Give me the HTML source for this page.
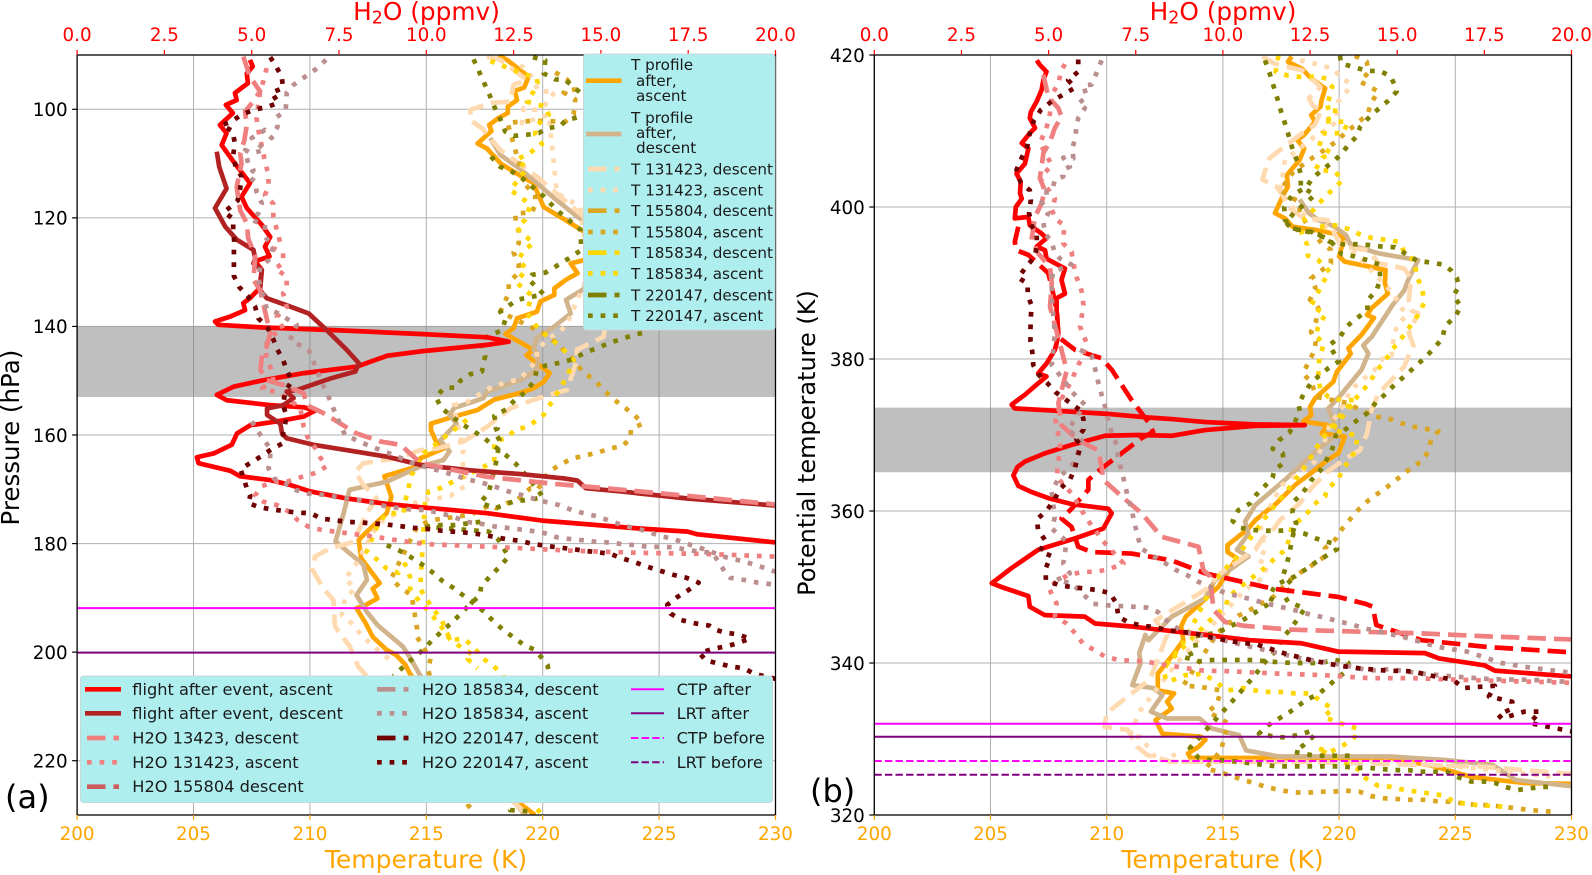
<!DOCTYPE html>
<html lang="en">
<head>
<meta charset="utf-8">
<title>H2O and temperature profiles</title>
<style>
html,body{margin:0;padding:0;background:#fff;width:1592px;height:875px;overflow:hidden}
svg{display:block;font-family:"DejaVu Sans","Liberation Sans",sans-serif}
.lg{font-size:16.2px;fill:#1a1a1a}
.lt{font-size:15.2px;fill:#1a1a1a}
</style>
</head>
<body>
<svg id="figure" xmlns="http://www.w3.org/2000/svg" width="1592" height="875" viewBox="0 0 1592 875">
<rect x="0" y="0" width="1592" height="875" fill="#fff"/>
<defs>
<clipPath id="clipA"><rect x="77" y="55" width="698.5" height="760"/></clipPath>
<clipPath id="clipB"><rect x="874.3" y="55" width="697.2" height="760"/></clipPath>
</defs>
<g id="panelA"></g>
<g id="panelB"></g>

<g>
<rect x="583.5" y="54" width="191.5" height="276" rx="3" fill="#afeeee" stroke="#c8d8d8" stroke-width="1"/>
<g><line x1="586" x2="621.5" y1="80.7" y2="80.7" stroke="#ffa500" stroke-width="4.7"/><text class="lt" x="631" y="70">T profile</text><text class="lt" x="636" y="86">after,</text><text class="lt" x="636" y="101">ascent</text></g>
<g><line x1="586" x2="621.5" y1="134" y2="134" stroke="#d2b48c" stroke-width="4.7"/><text class="lt" x="631" y="123">T profile</text><text class="lt" x="636" y="138">after,</text><text class="lt" x="636" y="153">descent</text></g>
<g><line x1="588" x2="619.5" y1="169" y2="169" stroke="#ffdab0" stroke-width="4.7" stroke-dasharray="18.5 8"/><text class="lt" x="631" y="174.5">T 131423, descent</text></g>
<g><line x1="588" x2="619.5" y1="190" y2="190" stroke="#ffdab0" stroke-width="4.7" stroke-dasharray="4.7 7.9"/><text class="lt" x="631" y="195.5">T 131423, ascent</text></g>
<g><line x1="588" x2="619.5" y1="210.7" y2="210.7" stroke="#daa520" stroke-width="4.7" stroke-dasharray="18.5 8"/><text class="lt" x="631" y="216">T 155804, descent</text></g>
<g><line x1="588" x2="619.5" y1="232" y2="232" stroke="#daa520" stroke-width="4.7" stroke-dasharray="4.7 7.9"/><text class="lt" x="631" y="237.5">T 155804, ascent</text></g>
<g><line x1="588" x2="619.5" y1="252.7" y2="252.7" stroke="#ffd700" stroke-width="4.7" stroke-dasharray="18.5 8"/><text class="lt" x="631" y="258">T 185834, descent</text></g>
<g><line x1="588" x2="619.5" y1="273.3" y2="273.3" stroke="#ffd700" stroke-width="4.7" stroke-dasharray="4.7 7.9"/><text class="lt" x="631" y="279">T 185834, ascent</text></g>
<g><line x1="588" x2="619.5" y1="295" y2="295" stroke="#808000" stroke-width="4.7" stroke-dasharray="18.5 8"/><text class="lt" x="631" y="300.5">T 220147, descent</text></g>
<g><line x1="588" x2="619.5" y1="315.7" y2="315.7" stroke="#808000" stroke-width="4.7" stroke-dasharray="4.7 7.9"/><text class="lt" x="631" y="321">T 220147, ascent</text></g>
</g>

<g>
<rect x="80.5" y="676" width="692" height="126.5" rx="3" fill="#afeeee" stroke="#c8d8d8" stroke-width="1"/>
<g><line x1="85" x2="121" y1="689.3" y2="689.3" stroke="#ff0000" stroke-width="4.7"/><text class="lg" x="132.3" y="695">flight after event, ascent</text></g>
<g><line x1="85" x2="121" y1="713.3" y2="713.3" stroke="#b22222" stroke-width="4.7"/><text class="lg" x="132.3" y="719">flight after event, descent</text></g>
<g><line x1="87" x2="119" y1="738" y2="738" stroke="#f08080" stroke-width="4.7" stroke-dasharray="18.5 8"/><text class="lg" x="132.3" y="743.5">H2O 13423, descent</text></g>
<g><line x1="87" x2="119" y1="762.3" y2="762.3" stroke="#f08080" stroke-width="4.7" stroke-dasharray="4.7 7.9"/><text class="lg" x="132.3" y="768">H2O 131423, ascent</text></g>
<g><line x1="87" x2="119" y1="786.7" y2="786.7" stroke="#cd5c5c" stroke-width="4.7" stroke-dasharray="18.5 8"/><text class="lg" x="132.3" y="792">H2O 155804 descent</text></g>
<g><line x1="377" x2="408.5" y1="689.3" y2="689.3" stroke="#bc8f8f" stroke-width="4.7" stroke-dasharray="18.5 8"/><text class="lg" x="422" y="695">H2O 185834, descent</text></g>
<g><line x1="377" x2="408.5" y1="713.3" y2="713.3" stroke="#bc8f8f" stroke-width="4.7" stroke-dasharray="4.7 7.9"/><text class="lg" x="422" y="719">H2O 185834, ascent</text></g>
<g><line x1="377" x2="408.5" y1="738" y2="738" stroke="#700000" stroke-width="4.7" stroke-dasharray="18.5 8"/><text class="lg" x="422" y="743.5">H2O 220147, descent</text></g>
<g><line x1="377" x2="408.5" y1="762.3" y2="762.3" stroke="#700000" stroke-width="4.7" stroke-dasharray="4.7 7.9"/><text class="lg" x="422" y="768">H2O 220147, ascent</text></g>
<g><line x1="631" x2="664" y1="689.3" y2="689.3" stroke="#ff00ff" stroke-width="2"/><text class="lg" x="676.6" y="695">CTP after</text></g>
<g><line x1="631" x2="664" y1="713.3" y2="713.3" stroke="#800080" stroke-width="2"/><text class="lg" x="676.6" y="719">LRT after</text></g>
<g><line x1="631" x2="664" y1="738" y2="738" stroke="#ff00ff" stroke-width="2" stroke-dasharray="7.4 3.2"/><text class="lg" x="676.6" y="743.5">CTP before</text></g>
<g><line x1="631" x2="664" y1="762.3" y2="762.3" stroke="#800080" stroke-width="2" stroke-dasharray="7.4 3.2"/><text class="lg" x="676.6" y="768">LRT before</text></g>
</g>

<text x="5" y="808" font-size="32" fill="#000">(a)</text>
<text x="810" y="802" font-size="32" fill="#000">(b)</text>

<text x="0" y="0" font-size="24.5" text-anchor="middle" transform="translate(19 437.6) rotate(-90)" fill="#000">Pressure (hPa)</text>
<text x="0" y="0" font-size="24" text-anchor="middle" transform="translate(815 443) rotate(-90)" fill="#000">Potential temperature (K)</text>
<text x="426" y="868" font-size="25" text-anchor="middle" fill="#ffa500">Temperature (K)</text>
<text x="1222.5" y="868" font-size="25" text-anchor="middle" fill="#ffa500">Temperature (K)</text>
<text x="426.5" y="20" font-size="24.8" text-anchor="middle" fill="#ff0000">H<tspan font-size="17.4" dy="3.5">2</tspan><tspan dy="-3.5">O (ppmv)</tspan></text>
<text x="1223" y="20" font-size="24.8" text-anchor="middle" fill="#ff0000">H<tspan font-size="17.4" dy="3.5">2</tspan><tspan dy="-3.5">O (ppmv)</tspan></text>
</svg>

<script>
/* ---------- axis tick values ---------- */
const tempTicks = [200,205,210,215,220,225,230];
const h2oTicks = ['0.0','2.5','5.0','7.5','10.0','12.5','15.0','17.5','20.0'];
const pressureTicks = [100,120,140,160,180,200,220];
const thetaTicks = [320,340,360,380,400,420];

/* ---------- reference levels ---------- */
const bandPressure = [140,153];
const bandTheta = [365.1,373.6];
const levelsPressure = [191.9,200.1];
const levelsThetaAfter = [332,330.3];
const levelsThetaBefore = [327.1,325.3];

/* ---------- panel (a): pressure coordinates, [value, hPa] ---------- */
const aH2oAscent = [[4.95,90.9],[5.03,92.1],[4.86,93.4],[4.89,95.2],[4.52,97],[4.57,98.3],[4.26,99.2],[4.46,100.7],[4.09,102.9],[4.28,104.4],[4.14,106.6],[4.52,110],[4.95,113.6],[4.71,116.1],[4.86,118.2],[5.29,121.3],[5.53,123.5],[5.38,125.3],[5.51,127.1],[5.1,128],[5.29,129.6],[5.22,133],[4.95,134.8],[4.76,135.7],[4.81,137],[4.38,138.2],[3.95,139.1],[4.04,139.7],[5.33,140.2],[7.44,140.7],[9.83,141.4],[11.74,142],[12.36,142.8],[11.74,143.4],[9.83,144.6],[8.88,145.4],[8.4,146.5],[8.02,147.4],[6.5,148.6],[5.34,149.9],[4.48,151.1],[4,152.6],[4.29,153.6],[5.53,154.5],[6.49,154.9],[6.82,155.5],[6.49,156.6],[5.72,157.5],[4.96,158.2],[4.58,159.7],[4.43,161.8],[3.91,163.4],[3.43,164.1],[3.48,165.2],[4.39,166.6],[4.67,167.6],[5.53,168.3],[6.1,169.2],[6.68,170.4],[7.73,171.7],[8.88,172.7],[9.83,173.3],[11.74,174.4],[13.37,175.8],[16.05,177.2],[17.48,177.8],[17.77,178.3],[19.87,179.7],[20.1,179.9]];
const aH2oDescent = [[4,107.8],[4.07,110.6],[4.28,114.6],[3.95,118.2],[4.24,121.6],[4.57,124],[5.05,125.9],[5.1,127.5],[5.05,128.4],[5.29,129.6],[5.24,133.3],[5.43,134.8],[6,136.1],[6.63,137.6],[7.15,140.7],[7.72,144.3],[8.07,146.8],[7.97,148.3],[7.25,149.6],[6.3,151.7],[6,152],[6.2,153.2],[5.9,154.5],[5.44,155.1],[5.44,156.3],[5.82,157.9],[5.87,159.7],[6,160.6],[6.77,161.8],[7.73,162.8],[8.88,164],[9.83,165.5],[11.26,166.5],[12.7,167.2],[13.95,168],[14.33,168.4],[14.57,169.8],[15.57,170.4],[17.48,171.7],[20,173]];
const aH2o131423Descent = [[4.76,90.3],[4.95,94],[5.24,96.7],[5,98.9],[4.81,100.4],[4.86,102.9],[4.79,105.7],[4.67,108.1],[4.71,110],[4.57,114.3],[4.67,118.6],[4.86,121],[4.9,123.8],[5.1,127.1],[5.05,131.4],[5.24,133.3],[5.53,141.3],[5.43,143.7],[5.3,145],[5.25,148],[5.43,149.9],[5.9,150.8],[6.49,152.3],[6.58,154.5],[7.06,156],[8,159.7],[8.69,161.2],[9.26,161.8],[9.64,164],[9.83,165.2],[11.74,167.7],[13.66,169],[14.6,169.5],[17.48,171.2],[20,172.8]];
const aH2o131423Ascent = [[5.43,92.4],[5.33,94.9],[5.24,96.7],[5.14,101.7],[5.19,103.8],[5.24,105.3],[5.38,109.6],[5.48,112.1],[5.48,114.3],[5.38,115.8],[5.62,117.4],[5.62,119.8],[5.72,122.2],[5.81,124.4],[5.62,125.6],[5.9,126.5],[5.9,128.4],[5.67,129.3],[6,130.8],[6,133.3],[5.9,133.9],[6,136.4],[5.72,138.2],[5.9,140.4],[5.53,141.9],[5.39,143.7],[5.43,146.2],[5.53,147.4],[5.62,149.9],[5.3,151.4],[5.8,152.3],[6.39,155],[6.49,158.5],[6.6,160.4],[6.82,162.4],[6.95,164],[7.14,165.8],[6.82,167],[6.44,167.7],[6.01,168.6],[5.67,168.6],[5.3,169.4],[5.1,171.1],[5.34,172.3],[5.72,172.9],[6.06,174.1],[6.32,175.7],[6.63,176.9],[7.01,177.5],[7.4,177.8],[8.1,178.4],[8.5,178.7],[9.26,179.5],[9.64,179.8],[10,180.1],[12.2,180.7],[14.13,181.3],[16.05,181.7],[17.96,181.9],[20,182.4]];
const aH2o185834Ascent = [[7.13,90.9],[6.84,92.6],[6.53,94],[6.2,95.5],[6,97],[6,98.5],[5.96,100.4],[5.72,101.4],[5.74,103.2],[5.57,105.3],[5.38,103.8],[5,105.3],[5.38,107.5],[5,108.1],[4.81,107.5],[4.9,110],[5.05,111.2],[4.9,112.4],[5.1,113.3],[5.14,115.2],[5.29,117.3],[5.19,119.2],[5,120.4],[5.38,121.3],[5.38,123.5],[5.62,125.3],[5.48,127.8],[5.24,129],[5.2,131.4],[5.43,136.7],[5.76,137.6],[6.29,139.7],[6.1,142.5],[6.63,144.3],[6.77,146.5],[6.92,148.9],[7.06,151.1],[7.23,153.4],[7.37,155.6],[7.52,157.8],[7.67,160],[8.02,161],[8.37,162],[8.7,162.8],[9.07,163.7],[9.4,164.6],[9.74,165.5],[10.1,166.1],[10.5,166.8],[10.9,167.6],[11.2,168.2],[11.6,168.8],[12,169.6],[12.3,170.3],[12.7,171],[13.06,171.7],[13.4,172.3],[13.8,172.9],[14.16,173.8],[14.5,174.4],[14.9,175],[15.25,175.8],[15.6,176.6],[16,177.2],[16.35,177.8],[16.7,178.6],[17.1,179.2],[17.45,180],[17.8,180.7],[18.2,181.6],[18.5,182.4],[18.9,183],[19.25,183.6],[19.6,184.3],[20,185.2]];
const aH2o185834Branch = [[5,157.5],[5.25,160],[5.53,162.5],[5.53,164.6],[5.48,166.1],[5.63,168],[5.96,168.9],[6.25,170.1],[6.63,170.8],[7.01,171],[7.4,171.4],[7.78,171.7],[8.14,172],[8.52,172.6],[8.88,173.2],[9.26,173.5],[9.64,173.8],[10,173.8],[10.4,174.4],[10.76,175],[11.14,176],[11.53,176.3],[11.9,176.8],[12.3,177.1],[12.7,177.4],[13.06,177.7],[13.4,178.1],[13.77,178.9],[14.16,179.2],[14.5,179.4],[14.9,179.7],[15.27,179.8],[15.6,180.1],[16,180.3],[16.35,180.6],[16.7,180.6],[17.1,180.7],[17.45,181.1],[17.8,181.5],[18.2,181.7],[18.55,185.2],[18.7,186.3],[19.1,186.7],[19.5,187.2],[20,187.6]];
const aH2o220147Ascent = [[5.53,90.4],[5.69,92],[5.86,94],[5.9,96.1],[5.57,96.9],[5.76,98.8],[5.43,99.6],[5.05,100.1],[4.71,101],[4.41,102.3],[4.14,102.9],[4.45,104],[4.52,106.3],[4.47,108.4],[4.54,110.6],[4.71,112.4],[4.67,114.6],[4.6,116.8],[4.41,117.9],[4.21,118.9],[4.47,120.2],[4.47,122.2],[4.5,124.4],[4.49,126.4],[4.49,128.7],[4.49,130.7],[4.65,132.8],[4.9,134.5],[5.1,136.4],[5.19,138.5],[5.45,140.2],[5.62,142.4],[5.74,144.3],[5.9,146.2],[6,148],[6.15,150],[5.96,152],[5.9,154.5],[6,156.6],[5.9,159.7],[5.9,161.5],[5.57,162.6],[5.3,163.8],[5,165],[4.68,166.3],[4.77,168],[4.86,169.8],[4.96,171.2],[4.9,172.5],[5.17,173.2],[5.55,173.7],[5.93,174],[6.3,174.3],[6.68,174.4],[7,175.4],[7.37,175.7],[7.73,176],[8.1,176.1],[8.5,176.3],[8.88,176.5],[9.26,176.8],[9.64,177.1],[10,177.3],[10.4,177.6],[10.76,177.8],[11.14,178],[11.53,178.3],[11.9,178.7],[12.3,179.2],[12.7,179.5],[13,180],[13.4,180.4],[13.77,180.7],[14.16,181],[14.5,181.3],[14.9,181.6],[15.27,181.9],[15.6,182.7],[16,183.5],[16.35,184.3],[16.7,185],[17.1,185.8],[17.45,186.3],[17.8,187.2],[17.5,188.6],[17.2,189.8],[16.9,191.3],[17,192.9],[17.3,194.1],[17.7,194.7],[18.1,195.1],[18.25,195.8],[18.55,196.4],[18.9,196.7],[19.27,197.5],[18.9,198.4],[18.6,198.9],[18.2,199.4],[17.83,200.2],[18,201.5],[18.3,202],[18.7,202.6],[19.1,203],[19.4,204],[19.85,204.7],[20.2,205.2]];

const aTAscent = [[218.1,90],[218.5,91],[219.4,94],[219.2,96],[218.8,96.6],[218.9,98.3],[218.5,99.5],[218.5,100.7],[218.1,101.6],[217.7,102.9],[217.8,104],[217.2,106.3],[217.6,107.2],[218.2,110],[218.75,111.5],[219.6,113.6],[220.04,118],[220.9,120.2],[221.76,122.5],[222.5,125],[221.76,127.8],[221.2,128.4],[221.5,130.2],[221,131.4],[220.5,133],[220.5,134.2],[219.9,135.4],[219.75,137.3],[218.9,138.5],[218.75,140.3],[218.4,141.4],[219.6,144.3],[219.3,145.3],[219.75,146.8],[220.3,148.6],[220.04,150.2],[219.6,151.4],[219,152.3],[217.9,153.5],[217.2,155.4],[216.2,156.6],[215.2,157.9],[215.2,159.1],[215.45,161.5],[215.74,162.5],[214.74,164.3],[214.6,165.8],[213.2,167.6],[213.5,171.4],[213.3,174.4],[212.6,177.2],[212.1,179.3],[212.2,182.7],[213,187.3],[212.7,188.3],[212.9,190.1],[212.4,191.3],[212,191.9],[212.4,194.7],[212.7,197.2],[213.3,199.6],[213.7,200.5],[214.1,202.3],[214.3,204],[219.03,227.9],[219.67,230]];
const aTDescent = [[217.75,105.3],[218.18,108.4],[219,110.9],[219.75,113.6],[220.5,116.4],[221.76,120.7],[222.5,126],[221.76,133.1],[221,135.1],[221.2,137.6],[220.5,140],[219.75,142.1],[219.6,144.3],[219.8,145],[219.75,148],[219.04,149.9],[217.6,152],[217.46,153.2],[216.2,155],[216,156.3],[216.3,157.9],[215.6,161],[216,163],[215.74,164.6],[214.74,165.8],[213.3,168.6],[211.7,170.1],[211.45,174.4],[211.1,179.6],[212.3,183.9],[212.45,186.7],[212,189.5],[212.45,192.6],[212.9,195],[214,199],[214.3,201],[214.7,204],[218.71,227.3],[219.25,230]];
const aT131423Descent = [[217.6,90.3],[218.18,90.9],[219.32,94.6],[218.75,95.5],[218.61,98.6],[217.82,98.8],[216.89,100.1],[216.89,102],[217.39,103.5],[218.18,107.5],[219.75,112.4],[221.76,119.8],[223,130],[222.62,141.9],[221.47,144.3],[221.47,146.2],[221.04,151.7],[219.61,153.5],[218.61,155.1],[217.6,158.5],[216.6,161.2],[215.46,162.5],[214.74,162.8],[213.73,164.3],[212.3,165.2],[211.94,166.8],[212.3,169.2],[212.87,171.7],[212.44,174.4],[211.87,179.7],[210.86,180.9],[210.22,182.4],[210.08,184.6],[210.58,188.3],[211.01,190.4],[211.08,195.3],[211.72,199],[212.08,202.7],[212.4,204.2],[218.82,227.9],[219.35,230]];
const aT131423Ascent = [[219.04,91.8],[219.47,93.7],[219.83,96.7],[220.54,96.7],[220.04,99.5],[219.68,100.1],[219.18,99.8],[219.11,102.6],[220.26,101],[220.61,115.5],[221.6,117.9],[222,130],[221,140],[220.18,142.5],[219.75,144.3],[219.75,146.2],[219.04,149.6],[217.82,151.1],[216.75,153.9],[216.17,154.5],[216.6,162.8],[216.53,163.7],[216.67,169.4],[216.03,171.2],[215.46,171.7],[214.74,172],[214.6,172.3],[212.94,176.3],[211.87,184.6],[211.51,186.4],[211.94,188.3],[211.51,190.1],[211.37,193.2],[211.8,194.7],[212.15,196.5],[212.58,198.4],[213.6,202]];
const aT155804Ascent = [[220.54,93.2],[221.04,94.5],[221.4,96.3],[220.9,96.9],[221.4,98.2],[221.33,100.9],[220.97,102.3],[219.61,102.1],[219.04,102.3],[218.49,102.5],[219.25,113.9],[219.68,115.8],[219.68,117.6],[219.54,119],[218.82,119.2],[218.85,121],[218.97,122.5],[218.97,124.7],[218.75,126.4],[218.97,128.4],[218.97,130.1],[218.54,131.9],[218.54,133.9],[218.18,137.3],[220.04,141.3],[220.61,143.1],[221.47,146.8],[221.72,148.5],[222.19,149.7],[222.58,151.5],[222.98,153.2],[223.44,154.7],[223.91,156.2],[224.3,157.9],[223.79,158.9],[223.77,160.6],[223.44,162],[222.88,162.5],[222.33,163.3],[221.76,163.8],[221.23,164.4],[220.73,165.5],[220.26,166.8],[219.78,170.1],[219.47,169.8],[218.89,172],[218.44,172.6],[218.01,173.5],[217.75,172.9],[216.89,174.7],[215.67,175.4],[215.14,175.8],[214.6,176.9],[213.5,186.4],[213.87,188.1],[214.37,189.5],[214.6,195.6],[214.6,197.2],[215.18,201.2],[215.08,203.3],[216.79,228.2],[217.1,229.7]];
const aT185834Ascent = [[217.75,91.1],[218.82,92.9],[219.75,94.3],[219.78,95.2],[219.61,96.7],[219.32,98.6],[220.11,99.5],[220.26,101],[219.68,103.2],[219.68,104.7],[219.97,106.4],[219.4,108.2],[218.89,109.2],[219.32,110.9],[218.61,114.9],[219.04,116.1],[219.47,117.6],[219.25,120.3],[218.89,121.9],[219.61,124.7],[219.18,125.9],[218.97,127.8],[219.3,129.4],[218.89,131.8],[219.18,133.3],[219.54,134.2],[219.32,137.3],[219.54,139.1],[219.97,141],[220.76,143.7],[221.33,146.2],[221.04,149.3],[220.83,150.8],[220.04,156.3],[219.35,158.5],[218.82,159],[218.47,160.5],[217.92,161.2],[217.92,164.9],[217.39,166],[216.1,168.7],[215.67,169.7],[215.1,170.4],[214.95,171.8],[214.74,188.3],[215.03,190.4],[215.67,194.2],[216.03,197.8],[216.6,197.5],[217.03,199],[217.43,201.2],[217.86,202.4],[218.28,204.2],[219.67,228.5],[220,230]];
const aT185834Branch = [[216.75,157.2],[216.17,159.1],[215.81,160.3],[215.38,161.8],[214.88,163.4],[214.37,167.4],[214.23,169.8],[214.09,172.3],[214.02,174.4],[213.3,174.4],[212.94,176.3],[212.44,181.5],[212.87,182.9],[213.3,184.6],[213.8,185.4],[214.09,183.8],[214.3,186.1],[214.3,188.3],[214.6,190.1],[215,192],[215.6,195],[216.04,197.8],[216.57,199.3],[217,200.5],[216.79,201.3],[217.2,203]];
const aT220147AscentA = [[217.03,90.8],[217.25,92.9],[217.49,95.2],[217.72,97.4],[217.93,99.6],[218.18,101.8],[218.39,104.1],[218.75,104.9],[219.3,104.7],[219.83,104.4],[220.18,103.5],[220.76,103.1],[220.97,102.1],[221.47,101.5],[221.83,101]];
const aT220147AscentB = [[219.58,90.4],[220.11,91],[220.04,93.4],[220.54,94.5],[220.97,94.6],[221.55,96.7],[221.83,97.7]];
const aT220147AscentC = [[217.78,108.7],[218.18,110.6],[218.68,111.5],[219.11,112.7],[219.58,114.4],[220.04,116],[220.61,118.6],[221.04,120.1],[221.62,122.2],[221.66,125.9],[221.26,127.1],[220.54,129],[220.11,130.1],[219.54,130.5],[219.4,131.4],[219.75,132.8],[220.04,134.1],[218.89,135.1],[218.54,136.2],[218.18,137.3],[218.39,138.8],[218.25,140.7],[217.32,142.5],[217.53,145.4],[217.39,148.3],[216.89,148.8],[216.46,150],[216.32,151.2],[215.74,151.4],[215.41,153.1],[215.67,155.1],[216.1,156.6],[216.53,158],[217.03,159.3],[217.49,160.6],[217.96,162.2],[218.39,163.6],[218.82,165.2],[219.18,166.9],[219.78,170],[220.01,171.5],[219.44,171.9],[218.82,172.2],[218.44,172.7],[217.96,173.5],[217.32,172.5],[217.68,170.6],[217.96,165.8],[218.06,163.5],[218.15,161],[217.89,159.1],[218.06,158.8],[217.92,156.5],[218.42,155.3],[218.79,153.6],[219.28,152],[219.61,150.2],[219.75,148],[220.18,147.1],[220.76,146.7],[221.3,146],[221.79,144.9],[222.9,143],[223.9,141.6],[224.48,141]];
const aT220147AscentD = [[217.32,176],[216.75,176.3],[216.17,176.6],[215.6,176.6],[215.03,176.9],[217.68,177.8],[218.08,179.2],[218.54,182.4],[218.14,184.3],[217.75,186],[217.36,187.8],[217.29,189.6],[216.89,191.1],[216.46,193],[216.06,194.7],[215.63,196.3],[215.21,198],[214.86,199.6],[214.33,201.5],[213.58,204.4]];
const aT220147AscentE = [[213.3,180.3],[213.8,181.2],[214.3,182.4],[214.74,183.6],[215.24,185.2],[215.67,186.8],[216.14,188.1],[216.6,189.6],[217.03,191],[217.5,192.6],[217.86,194.2],[218.28,195.8],[218.75,197.3],[219.21,198.7],[219.67,199.6],[219.99,201.2],[220.21,202.4],[220.27,204.2],[218.6,229.1],[219.67,229.4]];

/* ---------- panel (b): potential temperature coordinates, [value, K] ---------- */
const bH2oAscent = [[4.66,419.3],[4.75,418.7],[4.94,417.8],[4.85,416.7],[4.8,415.4],[4.66,413.9],[4.49,412.5],[4.46,411.7],[4.61,410.4],[4.46,409.7],[4.23,408.4],[4.42,407.7],[4.32,405.7],[4.08,404.4],[4.2,403.3],[4.18,401.8],[4.23,401.1],[4.06,400],[4.03,398.5],[4.42,398.7],[4.46,397.6],[4.8,396.5],[4.94,395.9],[4.66,394.8],[4.9,394.3],[4.94,393.2],[5.47,391.9],[5.37,390.4],[5.47,388.6],[5.23,388],[5.23,386.4],[5.28,383.4],[5.23,382.1],[5.18,381.2],[4.94,379.4],[4.7,378.1],[4.94,377.7],[4.7,376.8],[4.32,375.3],[3.94,374],[4.03,373.5],[5.18,373.2],[6.62,372.8],[7.86,372.3],[8.53,372.1],[9.49,371.7],[10.9,371.4],[12.35,371.3],[10.9,371.2],[9.49,370.65],[8.53,369.9],[7.57,370],[6.62,369.9],[5.66,368.7],[4.9,367.6],[4.32,366.5],[4.11,365.8],[3.99,364.7],[4.13,363.3],[4.51,362.5],[4.99,361.7],[5.66,360.9],[6.71,360.3],[6.81,359.7],[6.57,357.7],[5.76,356.4],[4.7,354.9],[3.94,352.5],[3.37,350.5],[3.65,350],[4.42,348.8],[4.46,347.4],[4.89,346.3],[6.04,346.1],[6.33,345.2],[7.38,344.8],[9.49,343.7],[10.77,343],[12.25,342.6],[13.3,341.5],[15.8,341.3],[16.2,340.6],[17.5,339.7],[17.8,339],[19.5,338.4],[20.1,338.2]];
const bH2oRedDashed = [[4.13,397.4],[4.03,395.4],[4.08,394.3],[4.42,393.7],[4.99,391.3],[5.09,389.5],[5.25,386],[5.25,383],[5.76,381.2],[6.52,380.1],[6.81,378.6],[7.38,374.6],[7.86,371.7],[8,370.4],[7.67,369.6],[6.52,365.6],[6.14,364.1],[6.14,362.8],[5.66,360.3],[5.37,359],[5.66,357.9],[5.85,355.3],[6.23,354.6],[7.38,354.4],[8.53,353.5],[9.49,351.8],[9.87,351.4],[11.4,349.8],[13.3,348.7],[14.08,347.8],[14.3,347.4],[14.4,345],[15.7,343],[17.6,342.1],[20,341.4]];
const bH2o131423Descent = [[4.85,417.4],[4.99,414.5],[5.28,413],[5.37,411.9],[5.18,410.4],[5.04,408.6],[4.85,407.1],[4.8,405.3],[4.75,403.8],[4.89,402.2],[4.8,400.5],[4.61,398.7],[4.51,395.7],[4.7,393.9],[5.04,392.1],[5.09,390],[5.04,386.9],[5.37,381.2],[5.52,378.5],[5.28,374.2],[5.37,371.3],[5.85,369.3],[6.42,368],[6.52,365.8],[6.57,364.1],[7.1,361.9],[7.67,359.7],[8.24,356.6],[9.3,355.3],[9.44,352.2],[9.63,351.4],[9.73,347],[10.06,345.4],[10.6,344.9],[11.9,344.4],[14.07,344.1],[15.7,343.9],[17.6,343.5],[20,343.1]];
const bH2o131423Ascent = [[5.47,418.8],[5.37,418],[5.28,416.3],[5.09,414.7],[5.02,411.5],[4.89,409.9],[4.75,408.4],[5.09,405.5],[4.75,403.8],[5.18,401.1],[5.09,399.6],[5.23,398.3],[5.45,397.6],[5.42,395.2],[5.66,394.1],[5.71,392.6],[5.8,390.8],[5.95,388.9],[6,387.1],[5.95,385.6],[5.9,384.3],[6.09,382.1],[5.95,380],[5.85,379.2],[5.66,377.2],[5.4,375],[5.2,372],[5.33,368.7],[5.28,366.3],[5.23,364.5],[5.66,362.3],[6.09,359],[6.57,356],[7.15,353.1],[6.76,352.4],[6.38,352],[6,352],[5.56,351.6],[4.99,350],[5.23,347.8],[5.18,346.1],[5.52,345.2],[5.76,343.9],[5.98,342.6],[6.6,340.9],[7,340.4],[7.77,340.2],[8.4,339.7],[9.43,339],[10.3,338.9],[11.6,338.6],[12.9,338.4],[14.2,338],[15.45,338],[16.7,337.8],[20,337.4]];
const bH2o185834AscentA = [[6.52,419.3],[6.38,417.7],[6.23,416.1],[6,416],[6.09,414.5],[5.85,413.6],[6.04,413],[5.85,411.7],[5.8,410.6],[5.76,409],[5.68,407.7],[5.71,406.4],[5.42,406.5],[5.61,405.3],[5.45,405],[5.42,404],[5.18,403.6],[5.13,402.7],[4.94,402.2],[4.94,401.4],[4.8,400.7],[4.99,399.2],[4.85,397.9],[4.9,396.5],[5.09,395.4],[5.18,393.9],[5.33,393.2],[5.66,392.4],[5.13,391.5],[5.09,390.4],[5.09,388],[5.18,383.4],[5.09,379.2],[5.47,377],[5.66,375.7],[6.04,374],[5.56,370.7],[5.95,369.3],[5.76,366.5],[5.28,364.3],[5.09,362.5],[5.18,359.2],[5.09,357.7],[5.52,356],[5.42,353.1],[5.61,351.8],[5.23,350.9],[5.66,350.5],[6.28,347.8],[6.66,347.6],[7.43,347.4],[7.81,347.3],[8.14,346.7],[8.43,345.4],[8.77,344.3],[12.25,340.6],[13.5,339.7],[14.2,339],[14.8,339.2],[15.7,338.6],[16.7,338.2],[17.75,337.85],[18.8,337.8],[20,337.5]];
const bH2o185834AscentB = [[5.9,381.2],[6.23,380.5],[6.33,378.8],[6.42,377],[6.52,375.3],[6.62,373.7],[6.71,372],[6.81,370.3],[6.95,368.7],[7,366.9],[7.1,365.2],[7.19,363.5],[7.27,361.9],[7.38,360.2],[7.46,358.5],[7.55,356.8],[7.65,355.1],[7.95,354.2],[8.29,353.3],[8.62,352.3],[8.96,351.6],[9.29,350.7],[9.97,349.4],[10.35,348.9],[10.71,348.5],[11.1,348],[11.45,347.6],[11.83,347.2],[12.2,346.8],[12.55,346.3],[12.93,346],[13.29,345.5],[13.67,345.1],[14.03,344.6],[14.4,344.2],[14.8,343.8],[15.13,343.5],[15.5,343],[15.87,342.5],[16.2,342.1],[17,341.5],[17.6,340.6],[18,340],[18.65,339.5],[20,338.7]];
const bH2o220147Ascent = [[5.85,419.4],[5.85,417.8],[5.56,416.7],[5.76,415.7],[5.42,414.8],[5.09,413.9],[4.78,412.8],[4.58,411.4],[4.46,409.7],[4.39,408],[4.23,406.5],[4.08,404.9],[4.2,403.2],[4.46,402.2],[4.49,400.9],[4.44,399.2],[4.51,397.6],[4.66,396.4],[4.66,394.9],[4.61,393.5],[4.35,392.1],[4.13,390.7],[4.4,389.9],[4.4,388.3],[4.51,387.1],[4.49,385.4],[4.48,383.9],[4.48,382.3],[4.53,381],[4.56,379.2],[4.72,377.9],[4.97,376.8],[5.21,375.6],[5.42,374.9],[5.68,374],[5.9,373.3],[6,372.1],[6,370.7],[5.8,369.4],[5.92,368.6],[5.83,367.1],[5.76,365.7],[5.62,364.2],[5.35,363],[5.15,361.4],[4.94,360],[4.66,358.9],[4.7,357.5],[4.91,356.1],[4.75,354.7],[5.07,354.1],[4.92,352.5],[4.92,350.9],[5.26,350.3],[5.64,350],[6.02,349.8],[6.4,349.6],[6.76,349.2],[6.95,347.8],[7,346.1],[7.31,345.3],[7.69,344.9],[8.07,344.7],[8.43,344.3],[8.81,344.1],[9.2,343.9],[9.5,343.5],[10.33,342.8],[11,342.4],[11.74,341.3],[12.5,340.4],[13.27,339.7],[13.9,339.3],[14.7,339],[15.45,338.9],[15.9,338.4],[16.6,337.8],[16.9,336.7],[17.44,336.9],[17.8,337],[17.63,335.6],[18.3,334.9],[18.3,334],[17.9,333.2],[18,332.7],[18.65,333.6],[19.1,333.6],[18.8,332.1],[20,331]];

const bTAscent = [[217.96,419.8],[217.8,419.1],[218.4,418.2],[218.8,416.9],[219.4,415.6],[219.25,414.1],[219.2,413.2],[218.8,412.1],[218.96,411.2],[218.5,409.5],[218.2,408.8],[218.5,407.7],[218.3,406.2],[217.75,404.2],[217.8,402.7],[217.6,401.6],[217.24,399.2],[217.67,398.5],[218,397.4],[218.96,397],[220.1,396.3],[220.2,395.7],[220,393.5],[220.25,392.8],[221.4,392.1],[222,391.7],[221.97,390],[222.1,388.6],[221.4,386.7],[221.2,385.8],[221.5,385.4],[220.97,383.2],[220.4,381.4],[220.5,380.7],[219.9,378.3],[219.75,377],[218.96,374.8],[218.75,373.7],[218.8,372.6],[218.46,371.8],[219.5,371.3],[219.25,370.2],[220.25,369.8],[219.97,367.6],[219.5,366.7],[218.8,365],[218.1,363.4],[217.3,361],[216.4,358.8],[216.1,357.7],[215.2,355.5],[215.2,354.6],[215.6,353.8],[214.8,350],[214.5,349.2],[214.2,348.3],[213.4,346.1],[213.2,344.8],[213.3,343],[212.9,341.3],[212.2,338.6],[212.2,336.4],[212.9,336],[212.6,334.9],[212.8,334],[212.1,332.5],[212.4,330.7],[214.06,330.3],[214.25,329.9],[213.96,329],[213.5,328.1],[213.6,327.5],[216.46,327.5],[222.2,327.5],[224.1,326.4],[225.7,325],[228,324.2],[230,324.1]];
const bTDescent = [[218.3,401],[218.7,399.2],[219.1,398.3],[219.8,397.4],[220.3,396.3],[220.5,395],[221.7,393.9],[223.4,393],[223,390.6],[222.8,389],[222.3,387.1],[221.4,382.9],[221.04,381.8],[221.26,380.7],[220.97,378.6],[220,375],[219.54,373.5],[219.75,371.8],[219.97,370.2],[219.25,368.5],[217.67,364.1],[216.4,360.8],[215.95,358.6],[216.1,357],[215.6,354.9],[216.1,354],[214.66,350.9],[214.23,348.5],[212.8,346.1],[211.8,343],[211.66,343.7],[211.4,341.3],[211.46,340],[211.1,337.1],[212,336.7],[212.4,335.8],[211.9,333.6],[212.6,332.7],[214,332.7],[214.5,331.4],[215.7,330.5],[216,328.5],[217.4,327.7],[222.2,327.7],[224.7,327.2],[226.6,326.6],[227.6,324.6],[230,323.8]];
const bT131423Descent = [[216.7,419.8],[217.2,418.9],[217.67,418.5],[218.4,418],[219.2,415.8],[218.7,414.3],[218.9,413.2],[219.25,412.9],[218.96,410.8],[218.4,409.7],[217.46,407.5],[217,406.4],[216.8,404.6],[216.7,403.6],[217.3,402.7],[217.6,401.4],[217.8,400],[218.5,398.5],[219.5,398.3],[220.1,394.8],[221.26,394.3],[221.7,392.6],[222.8,391.9],[223.1,390.6],[223,387.8],[223.1,386.4],[223.4,386],[223,383.4],[223.2,381.8],[223.1,381.2],[222.8,379],[222.4,377.7],[221.7,375.5],[221.4,373.3],[221.2,370.2],[220.9,368],[220.4,367.1],[219.5,365.2],[218.8,363],[218.3,361],[217.45,358.8],[217.2,357.7],[216.7,356.4],[216.4,354.9],[215.95,354],[214.9,351.8],[214.23,349.6],[212.1,345.6],[212.6,343.7],[211.85,337.8],[210.9,335.6],[210,333.4],[209.9,331.6],[210.9,331.2],[211.3,329],[211.75,327.9],[212.8,327],[218.4,327],[226,326.4],[230,325.4]];
const bT131423Ascent = [[218.32,419.3],[218.89,418.9],[219.75,418.2],[220.11,416.9],[220.47,416.3],[220.33,415.2],[219.97,413.9],[219.9,412.3],[219.9,411.2],[219.47,410.2],[218.96,409.3],[217.67,406.2],[217.6,404.6],[217.46,402.2],[217.96,400],[218.68,398.7],[219.25,397.9],[220.4,394.8],[222.33,388.6],[222.69,386.7],[222.91,385.8],[222.55,384.6],[222.38,383.5],[222.26,380.5],[221.98,380.5],[221.54,378.6],[221.11,377.5],[220.68,376.4],[220.33,375],[219.97,372.8],[219.61,371.5],[219.39,369.3],[218.96,366.5],[217.53,363.4],[216.6,358.2],[216.81,354.9],[216.52,353.5],[216.88,353.1],[216.81,351.4],[215.95,349.6],[213,339.95],[211.46,333.8],[211.08,331.2],[211,330.3],[211.46,330.3],[212.23,327],[212.9,327.9],[212.62,327],[214.54,327],[218.38,326.8],[222.22,327],[226.06,326.1],[229.29,325]];
const bT155804Ascent = [[220.68,419.9],[221.19,419.1],[221.26,417.7],[220.9,416.5],[221.69,415.2],[221.4,413.8],[221.22,412.2],[220.78,411],[220.33,409.9],[219.9,408.7],[219.47,407.7],[218.96,406.7],[218.5,405.7],[218.03,404.6],[217.46,402.2],[218.25,400.7],[218.32,399.2],[218.6,397.8],[219.25,395.2],[219.64,394.4],[219.65,392.6],[219.22,391.6],[218.79,390.6],[218.99,389.3],[218.75,387.8],[219.11,386.7],[219.01,385],[218.79,383.6],[218.99,382.3],[218.96,381.2],[218.68,379.6],[218.46,378.1],[218.82,376.8],[219.03,375],[220.4,374.2],[220.83,373.4],[221.57,372.4],[222.12,372.2],[222.65,371.6],[223.2,371.1],[223.73,370.8],[224.27,370.5],[223.95,369.3],[223.87,368.1],[223.62,366.7],[223.12,365.7],[222.66,364.6],[222.22,363.5],[221.76,362.5],[221.3,361.5],[220.87,360.3],[220.5,359],[220.14,357.7],[219.85,356.3],[219.39,355.1],[219.42,354.1],[218.96,353.1],[218.43,352.1],[217.96,351.1],[217.53,349.8],[217.17,348.7],[216.17,347],[215.66,346.2],[214.78,344],[213.29,337],[213.96,336.9],[214.92,336.4],[214.73,334.5],[214.35,333.6],[215.21,332.1],[214.92,328.5],[214.25,326.1],[214.83,325.7],[215.5,325],[215.88,324.6],[216.36,324.2],[216.84,323.7],[217.42,323.3],[217.99,323],[218.57,322.9],[219.15,323.07],[219.72,323.07],[220.3,323.2],[220.88,323.07],[221.36,322.5],[221.93,322.2],[222.51,322.1],[223.09,322],[223.66,322],[224.24,321.8],[224.81,321.75],[225.39,321.5],[225.97,321.3],[226.45,321.3],[227.02,321.1],[227.6,320.9],[228.18,320.65],[229.29,320.4]];
const bT185834AscentA = [[217.39,419.9],[217.27,417.8],[217.79,417.3],[218.36,417.1],[218.93,417.2],[219.47,416.9],[219.71,415.8],[219.61,414.6],[219.42,413],[219.85,413.3],[219.8,411.8],[219.28,411.3],[220.37,411.2],[220.18,409.7],[219.28,409.7],[219.15,408],[219.68,407.1],[219.29,406.5],[219,405],[219.85,404.6],[220.15,403.5],[219.72,402.3],[219.32,401.1],[218.89,399.6],[218.53,398.5],[218.39,396.5],[218.63,395],[218.65,393.6],[219.11,393],[219.61,391.4],[219.28,390],[219.04,388.4],[218.79,387],[219.42,385.9],[219.14,384.5],[218.96,383],[219.35,382.2],[219.08,379],[219.18,376.1],[219.54,375],[220.11,374.6],[220.71,374.6],[220.04,372],[219.68,370.7],[220.8,369.9],[220.71,368.4],[220.54,366.9],[220.15,365.6],[219.97,364.1],[219.51,363],[219.39,361.9],[218.93,360.9],[218.6,359.6],[217.96,357.9],[217.74,355],[217.27,353.9],[216.88,352.7],[216.45,351.7],[215.23,348.7],[215.12,347.4],[214.66,346.3],[212.62,339.95],[212.42,338.9],[212.62,337.5],[213.38,338.4],[214.15,338.6],[214.35,338.2],[215.21,336.4],[215.88,336.7],[216.36,336.4],[216.84,336.2],[217.42,336.2],[218.09,336],[218.76,336],[219.24,334.9],[219.72,334],[219.34,332.9],[220.3,331.8],[220.78,331.4],[220.68,330.3],[220.2,329.2],[219.63,328.3],[219.05,328.8],[220.88,325.9],[221.16,324.8],[221.64,323.9],[222.22,323.7],[222.8,323.3],[223.37,323.07],[223.85,322.85],[224.43,322.6],[224.81,322],[225.39,321.5],[225.97,321.3],[226.54,321.2],[227.02,321.1]];
const bT185834AscentB = [[219.18,397.4],[219.82,397.6],[220.4,397.1],[220.9,396.4],[221.43,395.9],[222,395.7],[222.58,395.4],[222.84,393.9],[223.3,392.8],[223.3,391.3],[223.58,389.1],[223.67,387.5],[223.45,386],[223.12,384.6],[222.81,383.2],[222.43,381.8],[222.12,380.4],[221.76,379],[221.47,377.7],[221.09,376.1],[220.71,374.8],[220.25,373.4],[219.18,369.1],[218.68,366.5],[218.36,365.1],[217.99,363.6],[217.64,362.2],[217.28,360.9],[216.96,359.7],[216.6,358.2],[216.27,356.8],[215.92,355.3],[215.59,353.9],[215.2,352.7],[214.8,351.4],[214.45,349.6],[213.38,343],[212.62,339.95]];
const bT220147AscentA = [[220.04,419.9],[220.08,418.9],[220.64,418.4],[221.22,417.9],[221.76,417.9],[222.22,417.2],[222.38,416.1],[222.48,415.2],[222.12,414],[221.69,412.9],[221.26,411.7],[220.9,410.5],[220.76,409.3],[220.4,408.2],[220.11,407],[219.72,405.9],[219.28,404.9],[218.85,403.8],[218.6,402.6],[217.99,401.6],[217.64,400],[217.67,398.3],[218,397.2],[218.58,396.8],[219.11,396.4],[219.61,395.4],[220.14,395.1],[220.68,395.1],[221.26,395],[221.83,394.8],[222.41,394.7],[222.88,393.8],[223.38,392.9],[223.94,392.7],[224.51,392.4],[224.84,391.6],[225.06,390.7],[225.16,389.6],[224.92,388.3],[225.25,386.9],[224.99,385.6],[224.56,384.3],[224.44,382.7],[224.08,381.4],[223.67,380.1],[223.27,379],[222.84,377.8],[222.41,376.7],[222,375.4],[221.59,374.3],[221.22,372.9],[220.76,371.9],[220.3,370.8],[219.85,369.9],[219.72,368.3],[219.47,366.8],[219.18,365.3],[218.79,364],[218.46,362.5],[218.07,361.3],[217.99,359.8],[218.15,358.4],[217.99,356.5],[217.89,354.9],[217.77,353.2],[217.6,351.6],[218.03,350.1],[217.6,349],[217.82,348],[218.53,347.2],[218.22,345.8],[217.89,344.4],[217.5,343.1],[217.39,341.9],[216.94,340.6],[216.27,338],[215.5,335.3],[214.34,331.4],[213.58,328.8],[213.96,327.5],[214.54,327.2],[215.11,327.2],[215.69,327],[216.17,326.8],[216.75,326.6],[217.32,326.4],[217.9,326.4],[218.47,326.4],[218.95,326.4],[219.53,326.4],[220.1,326.4],[220.78,326.2],[221.26,326.2],[221.84,326.05],[222.41,325.9],[222.99,325.9],[223.47,325.7],[224.05,325.7],[224.62,325.7],[225.1,325],[225.68,324.4],[226.25,324.4],[226.73,324.2],[227.12,323.7],[227.7,323.3],[228.18,323.5],[228.75,323.7],[229.29,323.7]];
const bT220147AscentB = [[216.81,419.3],[217,417.7],[217.17,416],[217.34,414.3],[217.5,412.6],[217.67,411],[217.84,409.3],[218,407.6],[218.2,406],[218.35,404.3],[218.35,402.7],[218.96,401.6],[218.53,400.4],[218.07,399.3],[217.72,397.9],[218.03,397],[218.6,397],[219.58,395.7],[220.11,393.8],[220.68,393.5],[221.22,393],[221.76,392.4],[221.76,391.2],[221.76,390.4],[221.62,389.1],[221.22,387.7],[221.22,386.4],[220.78,385.4],[220.33,384.3],[220.04,382.9],[219.57,381.8],[220,379.7],[219.54,378.8],[219.1,377.7],[218.78,376.8],[218.46,375.3],[218.25,374],[218.32,373.1],[217.86,370.3],[217.41,369.3],[217.14,368.2],[217.57,367.6],[217.63,366.4],[217.2,365.3],[217.14,364.4],[216.78,363.2],[216.45,362.2],[216.17,361],[215.66,360.1],[215.42,358.7],[215.74,357.8],[216.28,357.5],[216.85,357.4],[217.41,357.4],[217.99,357.5],[218.53,357],[218.99,356.4],[219.42,356],[219.78,355.7],[219.92,355],[219.44,354.1],[218.92,353.1],[218.6,352.4],[218.1,351.4],[217.27,350.3],[216.96,348.6],[217.21,348.2],[216.67,347.2],[216.17,346.2],[215.66,345.3],[215.16,344.6],[214.78,344],[213.77,343.5],[213.86,341.5],[213.29,340.8],[213.96,340.2],[214.54,340.4],[215.11,340.4],[215.79,340.4],[216.36,340.4],[216.94,340.2],[218,340],[218.57,340],[219.15,340],[219.82,340.4],[220.4,340],[220.3,338.9],[219.92,338],[219.15,336],[218.57,335.1],[217.9,333.6],[217.42,332.7],[216.94,331.8],[216.55,330.7],[217.23,330.3],[217.71,330.2],[218.19,330.5],[218.76,331],[218.95,330.5],[218.47,329.2],[218.09,328.3],[218.95,327.8],[219.53,327.8],[220.1,327.8],[220.78,327.8]];

/* ---------- geometry and axis functions ---------- */
const SVGNS = 'http://www.w3.org/2000/svg';
const top_ = 55, bottom_ = 815;
const panelA = {left:77.1, right:775.5, g:document.getElementById('panelA'), clip:'clipA'};
const panelB = {left:874.3, right:1571.5, g:document.getElementById('panelB'), clip:'clipB'};
function xTemp(panel, t){ return panel.left + (t-200)/30*(panel.right-panel.left); }
function xH2o(panel, h){ return panel.left + h/20*(panel.right-panel.left); }
function yPressure(p){ return top_ + (p-90)/140*(bottom_-top_); }
function yTheta(th){ return top_ + (420-th)/100*(bottom_-top_); }

function make(parent, tag, attrs){
  const el = document.createElementNS(SVGNS, tag);
  for(const k in attrs){ el.setAttribute(k, attrs[k]); }
  parent.appendChild(el);
  return el;
}
const styleSolid = '';
const styleDash = '18.5 8';
const styleDot = '4.7 7.9';

function drawSeries(panel, data, xfn, yfn, colour, dash, name){
  let d = '';
  for(let i=0;i<data.length;i++){
    d += (i?'L':'M') + xfn(panel,data[i][0]).toFixed(2) + ' ' + yfn(data[i][1]).toFixed(2);
  }
  const path = make(panel.series, 'path', {d:d, fill:'none', stroke:colour, 'stroke-width':4.7, 'stroke-linejoin':'round', 'stroke-dasharray':dash});
  
  
}

function drawFrame(panel, yTicks, yfn, yPrefix){
  const g = panel.g;
  for(const t of tempTicks){
    const x = xTemp(panel,t);
    const line = make(g,'line',{x1:x,x2:x,y1:top_,y2:bottom_,stroke:'#b0b0b0','stroke-width':1});
    
    
  }
  for(const t of yTicks){
    const y = yfn(t);
    const line = make(g,'line',{x1:panel.left,x2:panel.right,y1:y,y2:y,stroke:'#b0b0b0','stroke-width':1});
    
    
  }
}

function drawAxes(panel, yTicks, yfn, yPrefix){
  const g = panel.g;
  const box = make(g,'rect',{x:panel.left,y:top_,width:panel.right-panel.left,height:bottom_-top_,fill:'none',stroke:'#000','stroke-width':1.3});
  
  
  for(const t of tempTicks){
    const x = xTemp(panel,t);
    const tick = make(g,'line',{x1:x,x2:x,y1:bottom_,y2:bottom_+5,stroke:'#ffa500','stroke-width':1.2});
    
    
    const lab = make(g,'text',{x:x,y:840,'font-size':18.3,'text-anchor':'middle',fill:'#ffa500'});
    
    
    lab.textContent = t;
  }
  for(const t of h2oTicks){
    const x = xH2o(panel,parseFloat(t));
    const tick = make(g,'line',{x1:x,x2:x,y1:top_-5,y2:top_,stroke:'#ff0000','stroke-width':1.2});
    
    
    const lab = make(g,'text',{x:x,y:41,'font-size':18.3,'text-anchor':'middle',fill:'#ff0000'});
    
    
    lab.textContent = t;
  }
  for(const t of yTicks){
    const y = yfn(t);
    const tick = make(g,'line',{x1:panel.left-5,x2:panel.left,y1:y,y2:y,stroke:'#000','stroke-width':1.2});
    
    
    const lab = make(g,'text',{x:panel.left-9.5,y:y+6.8,'font-size':18.3,'text-anchor':'end',fill:'#000'});
    
    
    lab.textContent = t;
  }
}

function drawBand(panel, band, yfn, name){
  const a = yfn(band[0]), b = yfn(band[1]);
  const r = make(panel.g,'rect',{x:panel.left,y:Math.min(a,b),width:panel.right-panel.left,height:Math.abs(b-a),fill:'#808080','fill-opacity':0.5});
  
  
}
function drawLevel(panel, value, yfn, colour, dash, name){
  const y = yfn(value);
  const l = make(panel.g,'line',{x1:panel.left,x2:panel.right,y1:y,y2:y,stroke:colour,'stroke-width':2,'stroke-dasharray':dash});
  
  
}

/* ---------- panel (a) ---------- */
drawFrame(panelA, pressureTicks, yPressure, 'panel-a');
drawBand(panelA, bandPressure, yPressure, 'cloud-band-pressure');
panelA.series = make(panelA.g,'g',{'clip-path':'url(#clipA)'});


drawSeries(panelA, aTAscent, xTemp, yPressure, '#ffa500', styleSolid, 't-after-ascent');
drawSeries(panelA, aTDescent, xTemp, yPressure, '#d2b48c', styleSolid, 't-after-descent');
drawSeries(panelA, aT131423Descent, xTemp, yPressure, '#ffdab0', styleDash, 't-131423-descent');
drawSeries(panelA, aT131423Ascent, xTemp, yPressure, '#ffdab0', styleDot, 't-131423-ascent');
drawSeries(panelA, aT155804Ascent, xTemp, yPressure, '#daa520', styleDot, 't-155804-ascent');
drawSeries(panelA, aT185834Ascent, xTemp, yPressure, '#ffd700', styleDot, 't-185834-ascent');
drawSeries(panelA, aT185834Branch, xTemp, yPressure, '#ffd700', styleDot, 't-185834-ascent-branch');
drawSeries(panelA, aT220147AscentA, xTemp, yPressure, '#808000', styleDot, 't-220147-ascent-a');
drawSeries(panelA, aT220147AscentB, xTemp, yPressure, '#808000', styleDot, 't-220147-ascent-b');
drawSeries(panelA, aT220147AscentC, xTemp, yPressure, '#808000', styleDot, 't-220147-ascent-c');
drawSeries(panelA, aT220147AscentD, xTemp, yPressure, '#808000', styleDot, 't-220147-ascent-d');
drawSeries(panelA, aT220147AscentE, xTemp, yPressure, '#808000', styleDot, 't-220147-ascent-e');
drawSeries(panelA, aH2oAscent, xH2o, yPressure, '#ff0000', styleSolid, 'h2o-flight-ascent');
drawSeries(panelA, aH2oDescent, xH2o, yPressure, '#b22222', styleSolid, 'h2o-flight-descent');
drawSeries(panelA, aH2o131423Descent, xH2o, yPressure, '#f08080', styleDash, 'h2o-131423-descent');
drawSeries(panelA, aH2o131423Ascent, xH2o, yPressure, '#f08080', styleDot, 'h2o-131423-ascent');
drawSeries(panelA, aH2o185834Ascent, xH2o, yPressure, '#bc8f8f', styleDot, 'h2o-185834-ascent');
drawSeries(panelA, aH2o185834Branch, xH2o, yPressure, '#bc8f8f', styleDot, 'h2o-185834-ascent-branch');
drawSeries(panelA, aH2o220147Ascent, xH2o, yPressure, '#700000', styleDot, 'h2o-220147-ascent');
drawLevel(panelA, levelsPressure[0], yPressure, '#ff00ff', '', 'ctp-after-line');
drawLevel(panelA, levelsPressure[1], yPressure, '#800080', '', 'lrt-after-line');
drawAxes(panelA, pressureTicks, yPressure, 'panel-a');

/* ---------- panel (b) ---------- */
drawFrame(panelB, thetaTicks, yTheta, 'panel-b');
drawBand(panelB, bandTheta, yTheta, 'cloud-band-theta');
panelB.series = make(panelB.g,'g',{'clip-path':'url(#clipB)'});


drawSeries(panelB, bTAscent, xTemp, yTheta, '#ffa500', styleSolid, 't-after-ascent');
drawSeries(panelB, bTDescent, xTemp, yTheta, '#d2b48c', styleSolid, 't-after-descent');
drawSeries(panelB, bT131423Descent, xTemp, yTheta, '#ffdab0', styleDash, 't-131423-descent');
drawSeries(panelB, bT131423Ascent, xTemp, yTheta, '#ffdab0', styleDot, 't-131423-ascent');
drawSeries(panelB, bT155804Ascent, xTemp, yTheta, '#daa520', styleDot, 't-155804-ascent');
drawSeries(panelB, bT185834AscentA, xTemp, yTheta, '#ffd700', styleDot, 't-185834-ascent-a');
drawSeries(panelB, bT185834AscentB, xTemp, yTheta, '#ffd700', styleDot, 't-185834-ascent-b');
drawSeries(panelB, bT220147AscentA, xTemp, yTheta, '#808000', styleDot, 't-220147-ascent-a');
drawSeries(panelB, bT220147AscentB, xTemp, yTheta, '#808000', styleDot, 't-220147-ascent-b');
drawSeries(panelB, bH2oAscent, xH2o, yTheta, '#ff0000', styleSolid, 'h2o-flight-ascent');
drawSeries(panelB, bH2oRedDashed, xH2o, yTheta, '#ff0000', styleDash, 'h2o-flight-descent');
drawSeries(panelB, bH2o131423Descent, xH2o, yTheta, '#f08080', styleDash, 'h2o-131423-descent');
drawSeries(panelB, bH2o131423Ascent, xH2o, yTheta, '#f08080', styleDot, 'h2o-131423-ascent');
drawSeries(panelB, bH2o185834AscentA, xH2o, yTheta, '#bc8f8f', styleDot, 'h2o-185834-ascent-a');
drawSeries(panelB, bH2o185834AscentB, xH2o, yTheta, '#bc8f8f', styleDot, 'h2o-185834-ascent-b');
drawSeries(panelB, bH2o220147Ascent, xH2o, yTheta, '#700000', styleDot, 'h2o-220147-ascent');
drawLevel(panelB, levelsThetaAfter[0], yTheta, '#ff00ff', '', 'ctp-after-line');
drawLevel(panelB, levelsThetaAfter[1], yTheta, '#800080', '', 'lrt-after-line');
drawLevel(panelB, levelsThetaBefore[0], yTheta, '#ff00ff', '7.4 3.2', 'ctp-before-line');
drawLevel(panelB, levelsThetaBefore[1], yTheta, '#800080', '7.4 3.2', 'lrt-before-line');
drawAxes(panelB, thetaTicks, yTheta, 'panel-b');
</script>
</body>
</html>
